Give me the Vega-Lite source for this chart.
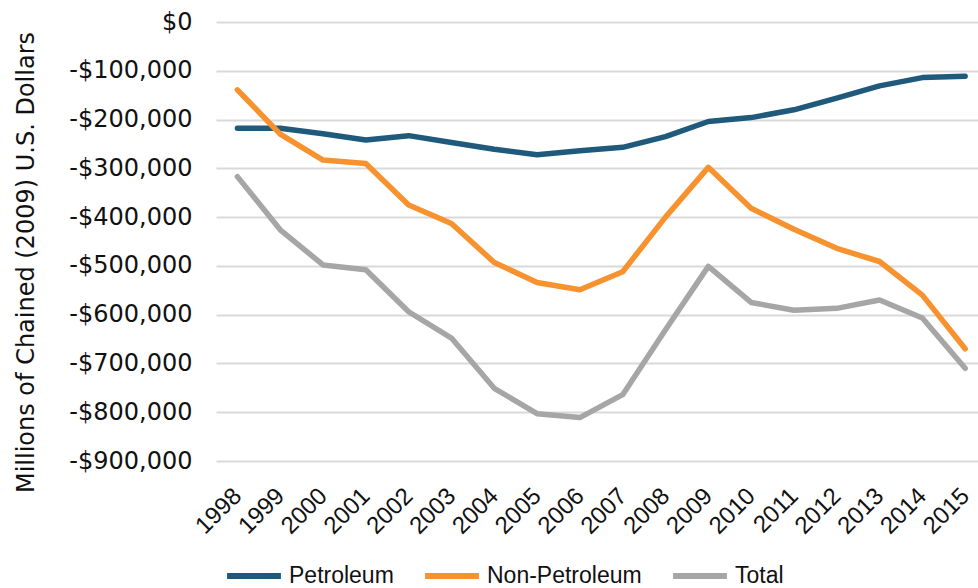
{
  "$schema": "https://vega.github.io/schema/vega-lite/v6.json",
  "width": 762,
  "height": 439,
  "autosize": "none",
  "padding": {"left": 216, "top": 22, "right": 0, "bottom": 127},
  "background": "white",
  "config": {"view": {"stroke": null}},
  "data": {
    "values": [
      {"year": 1998, "series": "Petroleum", "value": -218000},
      {"year": 1999, "series": "Petroleum", "value": -218000},
      {"year": 2000, "series": "Petroleum", "value": -229000},
      {"year": 2001, "series": "Petroleum", "value": -242000},
      {"year": 2002, "series": "Petroleum", "value": -233000},
      {"year": 2003, "series": "Petroleum", "value": -247000},
      {"year": 2004, "series": "Petroleum", "value": -261000},
      {"year": 2005, "series": "Petroleum", "value": -272000},
      {"year": 2006, "series": "Petroleum", "value": -264000},
      {"year": 2007, "series": "Petroleum", "value": -257000},
      {"year": 2008, "series": "Petroleum", "value": -235000},
      {"year": 2009, "series": "Petroleum", "value": -204000},
      {"year": 2010, "series": "Petroleum", "value": -196000},
      {"year": 2011, "series": "Petroleum", "value": -180000},
      {"year": 2012, "series": "Petroleum", "value": -156000},
      {"year": 2013, "series": "Petroleum", "value": -131000},
      {"year": 2014, "series": "Petroleum", "value": -114000},
      {"year": 2015, "series": "Petroleum", "value": -111000},
      {"year": 1998, "series": "Non-Petroleum", "value": -139000},
      {"year": 1999, "series": "Non-Petroleum", "value": -230000},
      {"year": 2000, "series": "Non-Petroleum", "value": -283000},
      {"year": 2001, "series": "Non-Petroleum", "value": -290000},
      {"year": 2002, "series": "Non-Petroleum", "value": -375000},
      {"year": 2003, "series": "Non-Petroleum", "value": -413000},
      {"year": 2004, "series": "Non-Petroleum", "value": -493000},
      {"year": 2005, "series": "Non-Petroleum", "value": -534000},
      {"year": 2006, "series": "Non-Petroleum", "value": -549000},
      {"year": 2007, "series": "Non-Petroleum", "value": -512000},
      {"year": 2008, "series": "Non-Petroleum", "value": -400000},
      {"year": 2009, "series": "Non-Petroleum", "value": -298000},
      {"year": 2010, "series": "Non-Petroleum", "value": -382000},
      {"year": 2011, "series": "Non-Petroleum", "value": -425000},
      {"year": 2012, "series": "Non-Petroleum", "value": -464000},
      {"year": 2013, "series": "Non-Petroleum", "value": -491000},
      {"year": 2014, "series": "Non-Petroleum", "value": -560000},
      {"year": 2015, "series": "Non-Petroleum", "value": -670000},
      {"year": 1998, "series": "Total", "value": -317000},
      {"year": 1999, "series": "Total", "value": -426000},
      {"year": 2000, "series": "Total", "value": -498000},
      {"year": 2001, "series": "Total", "value": -508000},
      {"year": 2002, "series": "Total", "value": -594000},
      {"year": 2003, "series": "Total", "value": -648000},
      {"year": 2004, "series": "Total", "value": -751000},
      {"year": 2005, "series": "Total", "value": -803000},
      {"year": 2006, "series": "Total", "value": -811000},
      {"year": 2007, "series": "Total", "value": -764000},
      {"year": 2008, "series": "Total", "value": -631000},
      {"year": 2009, "series": "Total", "value": -501000},
      {"year": 2010, "series": "Total", "value": -575000},
      {"year": 2011, "series": "Total", "value": -591000},
      {"year": 2012, "series": "Total", "value": -587000},
      {"year": 2013, "series": "Total", "value": -570000},
      {"year": 2014, "series": "Total", "value": -607000},
      {"year": 2015, "series": "Total", "value": -710000}
    ]
  },
  "mark": {"type": "line", "strokeWidth": 5.5, "strokeCap": "round", "strokeJoin": "round"},
  "encoding": {
    "x": {
      "field": "year",
      "type": "quantitative",
      "scale": {"domain": [1997.5, 2015.3], "nice": false, "zero": false},
      "axis": {
        "title": null,
        "values": [1998, 1999, 2000, 2001, 2002, 2003, 2004, 2005, 2006, 2007, 2008, 2009, 2010, 2011, 2012, 2013, 2014, 2015],
        "format": "d",
        "labelAngle": -45,
        "labelAlign": "right",
        "labelBaseline": "middle",
        "labelPadding": 31,
        "labelFont": "Liberation Sans",
        "labelFontSize": 24,
        "labelColor": "#111111",
        "labelOverlap": false,
        "labelFlush": false,
        "ticks": false,
        "domain": false,
        "grid": false
      }
    },
    "y": {
      "field": "value",
      "type": "quantitative",
      "scale": {"domain": [-900000, 0], "nice": false},
      "axis": {
        "title": "Millions of Chained (2009) U.S. Dollars",
        "titleFont": "DejaVu Sans",
        "titleFontSize": 24,
        "titleFontWeight": "normal",
        "titleColor": "#111111",
        "titleAngle": -90,
        "titleAlign": "center",
        "titleBaseline": "alphabetic",
        "titleX": -183,
        "titleY": 240,
        "values": [0, -100000, -200000, -300000, -400000, -500000, -600000, -700000, -800000, -900000],
        "labelExpr": "datum.value == 0 ? '$0' : '-$' + format(-datum.value, ',')",
        "labelFont": "DejaVu Sans",
        "labelFontSize": 24,
        "labelColor": "#111111",
        "labelPadding": 24,
        "ticks": false,
        "domain": false,
        "grid": true,
        "gridColor": "#d9d9d9",
        "gridWidth": 2
      }
    },
    "color": {
      "field": "series",
      "type": "nominal",
      "scale": {
        "domain": ["Petroleum", "Non-Petroleum", "Total"],
        "range": ["#1f5a7c", "#f7922f", "#a6a6a6"]
      },
      "legend": {
        "title": null,
        "orient": "none",
        "direction": "horizontal",
        "legendX": 8,
        "legendY": 524,
        "symbolType": "stroke",
        "symbolSize": 2900,
        "symbolStrokeWidth": 6,
        "labelFont": "Liberation Sans",
        "labelFontSize": 23,
        "labelLimit": 400,
        "labelColor": "#111111",
        "labelOffset": 5,
        "columnPadding": 19
      }
    }
  }
}
